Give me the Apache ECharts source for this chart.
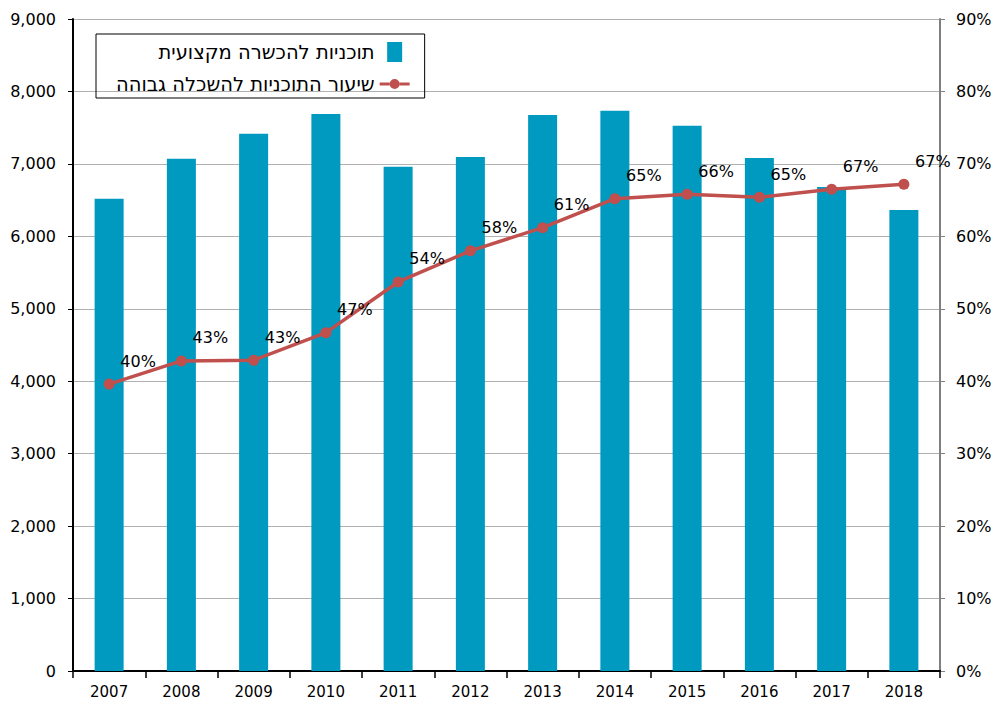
<!DOCTYPE html>
<html>
<head>
	<meta charset="utf-8">
	<script src="https://cdn.jsdelivr.net/npm/echarts@6/dist/echarts.min.js"></script>
	<style>
		html, body { margin: 0; padding: 0; background: #fff; }
		#chart { width: 998px; height: 704px; }
	</style>
</head>
<body>
	<div id="chart"></div>
	<script>
		// שנים
		var years = ['2007', '2008', '2009', '2010', '2011', '2012', '2013', '2014', '2015', '2016', '2017', '2018'];
		// תוכניות להכשרה מקצועית (מספר)
		var programs = [6520, 7070, 7415, 7690, 6960, 7095, 7675, 7735, 7525, 7080, 6680, 6365];
		// שיעור התוכניות להשכלה גבוהה (%)
		var higherEdRate = [39.6, 42.8, 42.9, 46.7, 53.7, 58.0, 61.2, 65.2, 65.8, 65.4, 66.5, 67.2];
		var rateLabels = ['40%', '43%', '43%', '47%', '54%', '58%', '61%', '65%', '66%', '65%', '67%', '67%'];

		var barName = 'תוכניות להכשרה מקצועית';
		var lineName = 'שיעור התוכניות להשכלה גבוהה';
		var font = 'DejaVu Sans';

		// svg renderer so the Hebrew legend text gets proper RTL ordering
		var chart = echarts.init(document.getElementById('chart'), null, { renderer: 'svg' });
		chart.setOption({
			animation: false,
			textStyle: { fontFamily: font },
			grid: { left: 73, right: 58, top: 19, bottom: 33 },
			legend: {
				orient: 'vertical',
				left: 96,
				top: 34,
				align: 'right',
				padding: [8, 15, 4, 20],
				itemGap: 12,
				itemWidth: 30,
				itemHeight: 20,
				borderColor: '#000',
				borderWidth: 1,
				borderRadius: 0,
				textStyle: { fontSize: 19.5, color: '#000', fontFamily: font },
				data: [
					{ name: barName, icon: 'path://M0,0 L15,0 L15,20 L0,20 Z' },
					{ name: lineName, icon: 'path://M0,4 L10,4 L10,7 L0,7 Z M20,4 L30,4 L30,7 L20,7 Z M10,5.5 A5,5 0 1,1 20,5.5 A5,5 0 1,1 10,5.5 Z' }
				]
			},
			xAxis: [{
				type: 'category',
				data: years,
				axisLine: { lineStyle: { color: '#000', width: 2 } },
				axisTick: { show: true, length: 7, alignWithLabel: false, lineStyle: { color: '#000', width: 1.5 } },
				axisLabel: { color: '#000', fontSize: 15, margin: 13 }
			}, {
				type: 'category',
				position: 'top',
				data: years,
				axisLine: { lineStyle: { color: '#000', width: 2 } },
				axisTick: { show: false },
				axisLabel: { show: false }
			}],
			yAxis: [{
				type: 'value',
				min: 0,
				max: 9000,
				interval: 1000,
				axisLine: { show: true, lineStyle: { color: '#000', width: 2 } },
				axisTick: { show: true, length: 5, lineStyle: { color: '#000' } },
				splitLine: { lineStyle: { color: '#b0b0b0', width: 1 } },
				axisLabel: {
					color: '#000', fontSize: 16, margin: 17,
					formatter: function (v) { return v.toLocaleString('en-US'); }
				}
			}, {
				type: 'value',
				min: 0,
				max: 90,
				interval: 10,
				position: 'right',
				axisLine: { show: true, lineStyle: { color: '#808080', width: 2 } },
				axisTick: { show: true, length: 5, lineStyle: { color: '#808080' } },
				splitLine: { show: false },
				axisLabel: { color: '#000', fontSize: 16, margin: 16, formatter: '{value}%' }
			}],
			series: [{
				name: barName,
				type: 'bar',
				data: programs,
				barWidth: 29,
				itemStyle: { color: '#0099BF' }
			}, {
				name: lineName,
				type: 'line',
				yAxisIndex: 1,
				data: higherEdRate,
				symbol: 'circle',
				symbolSize: 11,
				lineStyle: { color: '#C0504D', width: 3.5 },
				itemStyle: { color: '#C0504D' },
				label: {
					show: true,
					position: 'inside',
					offset: [29, -23],
					color: '#000',
					fontSize: 16,
					formatter: function (p) { return rateLabels[p.dataIndex]; }
				}
			}]
		});
	</script>
</body>
</html>
